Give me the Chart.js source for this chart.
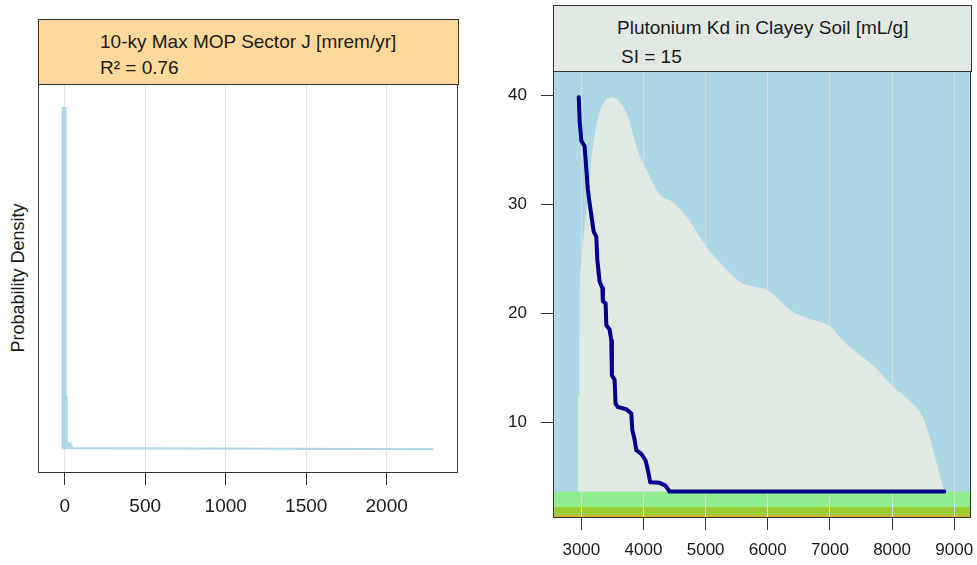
<!DOCTYPE html>
<html>
<head>
<meta charset="utf-8">
<script src="https://cdn.jsdelivr.net/npm/chart.js@4/dist/chart.umd.min.js"></script>
<style>
  body { margin: 0; background: #fff; font-family: "Liberation Sans", Arial, sans-serif; }
  #wrap { position: relative; width: 977px; height: 565px; overflow: hidden; }
  canvas { position: absolute; }
  .head { position: absolute; box-sizing: border-box; border: 1px solid #333; }
  .head div { position: absolute; font-size: 19px; line-height: 22px; color: #1a1a1a; white-space: pre; }
  #ylab { position: absolute; left: 18px; top: 278px; font-size: 18px; color: #1a1a1a;
          transform: translate(-50%, -50%) rotate(-90deg); white-space: nowrap; }
</style>
</head>
<body>
<div id="wrap">
  <div class="head" style="left:38px;top:19px;width:421px;height:66px;background:#FDD99B;">
    <div style="left:61px;top:11px;">10-ky Max MOP Sector J [mrem/yr]</div>
    <div style="left:61px;top:37px;">R² = 0.76</div>
  </div>
  <div class="head" style="left:553px;top:5px;width:419px;height:67px;background:#E0E9E2;">
    <div style="left:63px;top:11px;">Plutonium Kd in Clayey Soil [mL/g]</div>
    <div style="left:67px;top:40px;">SI = 15</div>
  </div>
  <div id="ylab">Probability Density</div>
  <canvas id="doseChart" width="470" height="481" style="left:0;top:84px;"></canvas>
  <canvas id="kdChart" width="487" height="494" style="left:490px;top:71px;"></canvas>
</div>
<script>
// 左图：剂量概率密度
const doseTicks = [0, 500, 1000, 1500, 2000];
const doseX = [-13, -13, 5, 5, 13, 13, 35, 50, 2290];
const doseDensity = [0, 1, 1, 0.153, 0.153, 0.018, 0.018, 0.004, 0];
const doseRange = [-166, 2443];
const densityRange = [-0.0695, 1.0704];

// 右图：Kd 分布与条件曲线
const kdTicksX = [3000, 4000, 5000, 6000, 7000, 8000, 9000];
const kdTicksY = [10, 20, 30, 40];
const kdRangeX = [2544, 9270];
const kdRangeY = [1.23, 42.2];
const kdX = [2944, 2945, 2968, 2972, 2995, 3000, 3040, 3080, 3186, 3294, 3482, 3723, 3937, 4045, 4259, 4468,
  4688, 5010, 5223, 5545, 5813, 6000, 6402, 6670, 7003, 7206, 7474, 7688, 8010, 8331, 8492, 8600,
  8707, 8788, 8841, 8852];
const kdDensity = [3.65, 12, 12.5, 21.4, 24.2, 24.7, 27.2, 29.2, 35.3, 38.4, 39.8, 38.4, 34.4, 33.2, 30.9, 30.2,
  28.9, 26.1, 24.7, 22.9, 22.4, 22.1, 20.1, 19.5, 18.8, 17.5, 16.2, 15.25, 13.3, 11.7, 10.5, 8.7,
  6.5, 4.7, 3.8, 3.65];
const curveKd = [2958, 2974, 3000, 3053, 3080, 3106, 3133, 3170, 3198, 3241, 3257, 3294, 3337, 3347, 3391,
  3402, 3455, 3482, 3492, 3535, 3551, 3588, 3723, 3804, 3820, 3857, 3884, 3965, 4034, 4071, 4109,
  4259, 4355, 4420, 8841];
const curveDose = [39.8, 37.5, 35.8, 35.3, 33.2, 31.3, 30.1, 28.6, 27.5, 27.0, 24.9, 22.9, 22.3, 21.1, 20.9,
  18.9, 18.5, 17.5, 14.3, 13.9, 11.7, 11.4, 11.2, 10.8, 9.3, 8.4, 7.45, 7.1, 6.5, 5.6, 4.5,
  4.45, 4.2, 3.65, 3.65];
const bandEdges = [1.23, 1.48, 2.24, 3.65];
const bandColors = ['#DAA520', '#9ACD32', '#90EE90'];

const toPoints = (xs, ys) => xs.map((x, i) => ({ x: x, y: ys[i] }));

// 取消刻度标签带来的额外留白
function noPadding(s) {
    s.paddingTop = 0;
    s.paddingBottom = 0;
    s.paddingLeft = 0;
    s.paddingRight = 0;
}

// 绘图区边框
const framePlugin = {
    id: 'frame',
    afterDraw(chart) {
        const a = chart.chartArea;
        const ctx = chart.ctx;
        ctx.save();
        ctx.strokeStyle = '#333';
        ctx.lineWidth = 1;
        ctx.strokeRect(a.left + 0.5, a.top + 0.5, a.right - a.left - 1, a.bottom - a.top - 1);
        ctx.restore();
    }
};

// 背景与底部色带
const bandPlugin = {
    id: 'bands',
    beforeDraw(chart) {
        const a = chart.chartArea;
        const ctx = chart.ctx;
        const ys = chart.scales.y;
        ctx.save();
        ctx.fillStyle = '#ADD8E6';
        ctx.fillRect(a.left, a.top, a.right - a.left, a.bottom - a.top);
        for (let i = 0; i < bandColors.length; i++) {
            const top = ys.getPixelForValue(bandEdges[i + 1]);
            const bottom = ys.getPixelForValue(bandEdges[i]);
            ctx.fillStyle = bandColors[i];
            ctx.fillRect(a.left, top, a.right - a.left, bottom - top);
        }
        ctx.restore();
    }
};

new Chart(document.getElementById('doseChart'), {
    type: 'line',
    data: {
        datasets: [{
            data: toPoints(doseX, doseDensity),
            borderColor: '#ADD8E6',
            backgroundColor: '#ADD8E6',
            borderWidth: 2,
            pointRadius: 0,
            fill: 'origin',
            tension: 0
        }]
    },
    options: {
        responsive: false,
        animation: false,
        layout: { padding: { left: 38, right: 12, top: 0, bottom: 0 } },
        plugins: { legend: { display: false }, tooltip: { enabled: false } },
        scales: {
            x: {
                type: 'linear',
                min: doseRange[0],
                max: doseRange[1],
                afterBuildTicks: s => { s.ticks = doseTicks.map(v => ({ value: v })); },
                afterFit: s => { s.height = 92; noPadding(s); },
                grid: { color: '#E3E3E3', tickColor: '#333', tickLength: 12 },
                border: { display: false },
                ticks: { color: '#1a1a1a', padding: 10, maxRotation: 0,
                         callback: v => String(v),
                         font: { family: 'Liberation Sans', size: 19 } }
            },
            y: {
                display: false,
                min: densityRange[0],
                max: densityRange[1]
            }
        }
    },
    plugins: [framePlugin]
});

new Chart(document.getElementById('kdChart'), {
    type: 'line',
    data: {
        datasets: [{
            data: toPoints(curveKd, curveDose),
            borderColor: '#00008B',
            borderWidth: 4,
            borderJoinStyle: 'round',
            borderCapStyle: 'round',
            pointRadius: 0,
            fill: false,
            tension: 0
        }, {
            data: toPoints(kdX, kdDensity),
            borderWidth: 0,
            borderColor: 'rgba(0,0,0,0)',
            backgroundColor: '#E0E9E2',
            pointRadius: 0,
            fill: { value: bandEdges[3] },
            cubicInterpolationMode: 'monotone'
        }]
    },
    options: {
        responsive: false,
        animation: false,
        layout: { padding: { left: 0, right: 6, top: 0, bottom: 0 } },
        plugins: { legend: { display: false }, tooltip: { enabled: false } },
        scales: {
            x: {
                type: 'linear',
                min: kdRangeX[0],
                max: kdRangeX[1],
                afterBuildTicks: s => { s.ticks = kdTicksX.map(v => ({ value: v })); },
                afterFit: s => { s.height = 47; noPadding(s); },
                grid: { color: '#DCDCDC', tickColor: '#333', tickLength: 12 },
                border: { display: false },
                ticks: { color: '#1a1a1a', padding: 10, maxRotation: 0,
                         callback: v => String(v),
                         font: { family: 'Liberation Sans', size: 17 } }
            },
            y: {
                min: kdRangeY[0],
                max: kdRangeY[1],
                afterBuildTicks: s => { s.ticks = kdTicksY.map(v => ({ value: v })); },
                afterFit: s => { s.width = 63; noPadding(s); },
                grid: { drawOnChartArea: false, tickColor: '#333', tickLength: 12 },
                border: { display: false },
                ticks: { color: '#1a1a1a', padding: 14,
                         callback: v => String(v),
                         font: { family: 'Liberation Sans', size: 17 } }
            }
        }
    },
    plugins: [bandPlugin, framePlugin]
});
</script>
</body>
</html>
